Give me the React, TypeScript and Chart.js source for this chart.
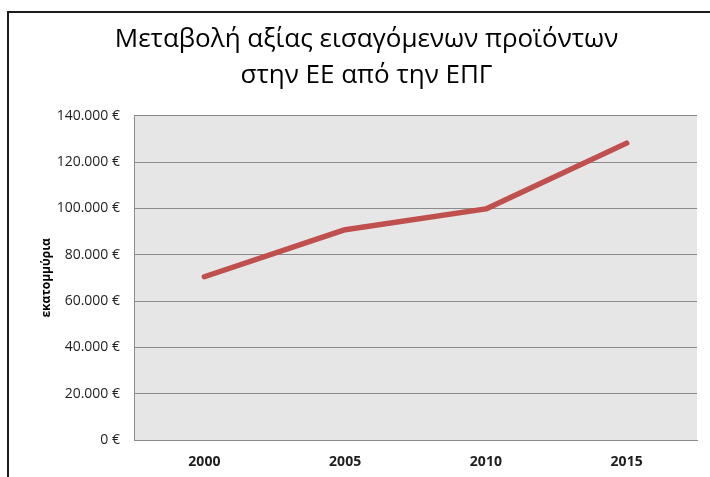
import React, { useEffect, useRef } from "react";
import { Chart, registerables } from "chart.js";

Chart.register(...registerables);

const titleLines = ["Μεταβολή αξίας εισαγόμενων προϊόντων", "στην ΕΕ από την ΕΠΓ"];
const yAxisTitle = "εκατομμύρια";
const categories = ["2000", "2005", "2010", "2015"];
const values = [70500, 90800, 99800, 128200];
const yMin = 0;
const yMax = 140000;
const yStep = 20000;

function formatEuro(v: number): string {
  const s = String(Math.round(v)).replace(/\B(?=(\d{3})+(?!\d))/g, ".");
  return s + " €";
}

const plotBackground = {
  id: "plotBackground",
  beforeDraw(chart: any) {
    const { ctx, chartArea } = chart;
    if (!chartArea) return;
    ctx.save();
    ctx.fillStyle = "#e6e6e6";
    ctx.fillRect(chartArea.left, chartArea.top, chartArea.right - chartArea.left, chartArea.bottom - chartArea.top);
    ctx.restore();
  },
};

export default function App() {
  const canvasRef = useRef<HTMLCanvasElement | null>(null);

  useEffect(() => {
    if (!canvasRef.current) return;
    const chart = new Chart(canvasRef.current, {
      type: "line",
      data: {
        labels: categories,
        datasets: [
          {
            data: values,
            borderColor: "#c0504d",
            borderWidth: 5.5,
            borderCapStyle: "round",
            borderJoinStyle: "round",
            pointRadius: 0,
            fill: false,
            tension: 0,
          },
        ],
      },
      options: {
        animation: false,
        responsive: false,
        maintainAspectRatio: false,
        layout: { padding: { left: 36, right: 13, top: 0, bottom: 0 } },
        plugins: {
          legend: { display: false },
          tooltip: { enabled: false },
          title: {
            display: true,
            text: titleLines,
            color: "#000000",
            font: { family: "'Open Sans', sans-serif", size: 26, weight: "500", lineHeight: 1.4 },
            padding: { top: 21, bottom: 22 },
          },
        },
        scales: {
          x: {
            type: "category",
            offset: true,
            grid: { display: false, drawTicks: false },
            border: { display: true, color: "#8c8c8c", width: 1 },
            ticks: {
              color: "#1e1e1e",
              font: { family: "'Open Sans', sans-serif", size: 14, weight: "bold" },
              padding: 14,
            },
            afterFit(scale: any) {
              scale.height = 37;
            },
          },
          y: {
            min: yMin,
            max: yMax,
            ticks: {
              stepSize: yStep,
              color: "#1e1e1e",
              font: { family: "'Open Sans', sans-serif", size: 14 },
              padding: 14,
              callback: (v: any) => formatEuro(Number(v)),
            },
            grid: { color: "#8a8a8a", lineWidth: 1, drawTicks: false },
            border: { display: true, color: "#8c8c8c", width: 1 },
            title: {
              display: true,
              text: yAxisTitle,
              color: "#000000",
              padding: { top: 3, bottom: 4 },
              font: { family: "'Open Sans', sans-serif", size: 12, weight: "bold" },
            },
            afterFit(scale: any) {
              scale.width = 98;
            },
          },
        },
      },
      plugins: [plotBackground],
    });
    return () => chart.destroy();
  }, []);

  return (
    <div style={{ position: "fixed", left: 0, top: 0, width: 710, height: 477, overflow: "hidden", background: "#ffffff" }}>
      <div
        style={{
          position: "absolute",
          left: 7,
          top: 11,
          width: 800,
          height: 600,
          border: "2.5px solid #1c1c1c",
          boxSizing: "border-box",
        }}
      />
      <canvas ref={canvasRef} width={710} height={477} style={{ position: "absolute", left: 0, top: 0 }} />
    </div>
  );
}
